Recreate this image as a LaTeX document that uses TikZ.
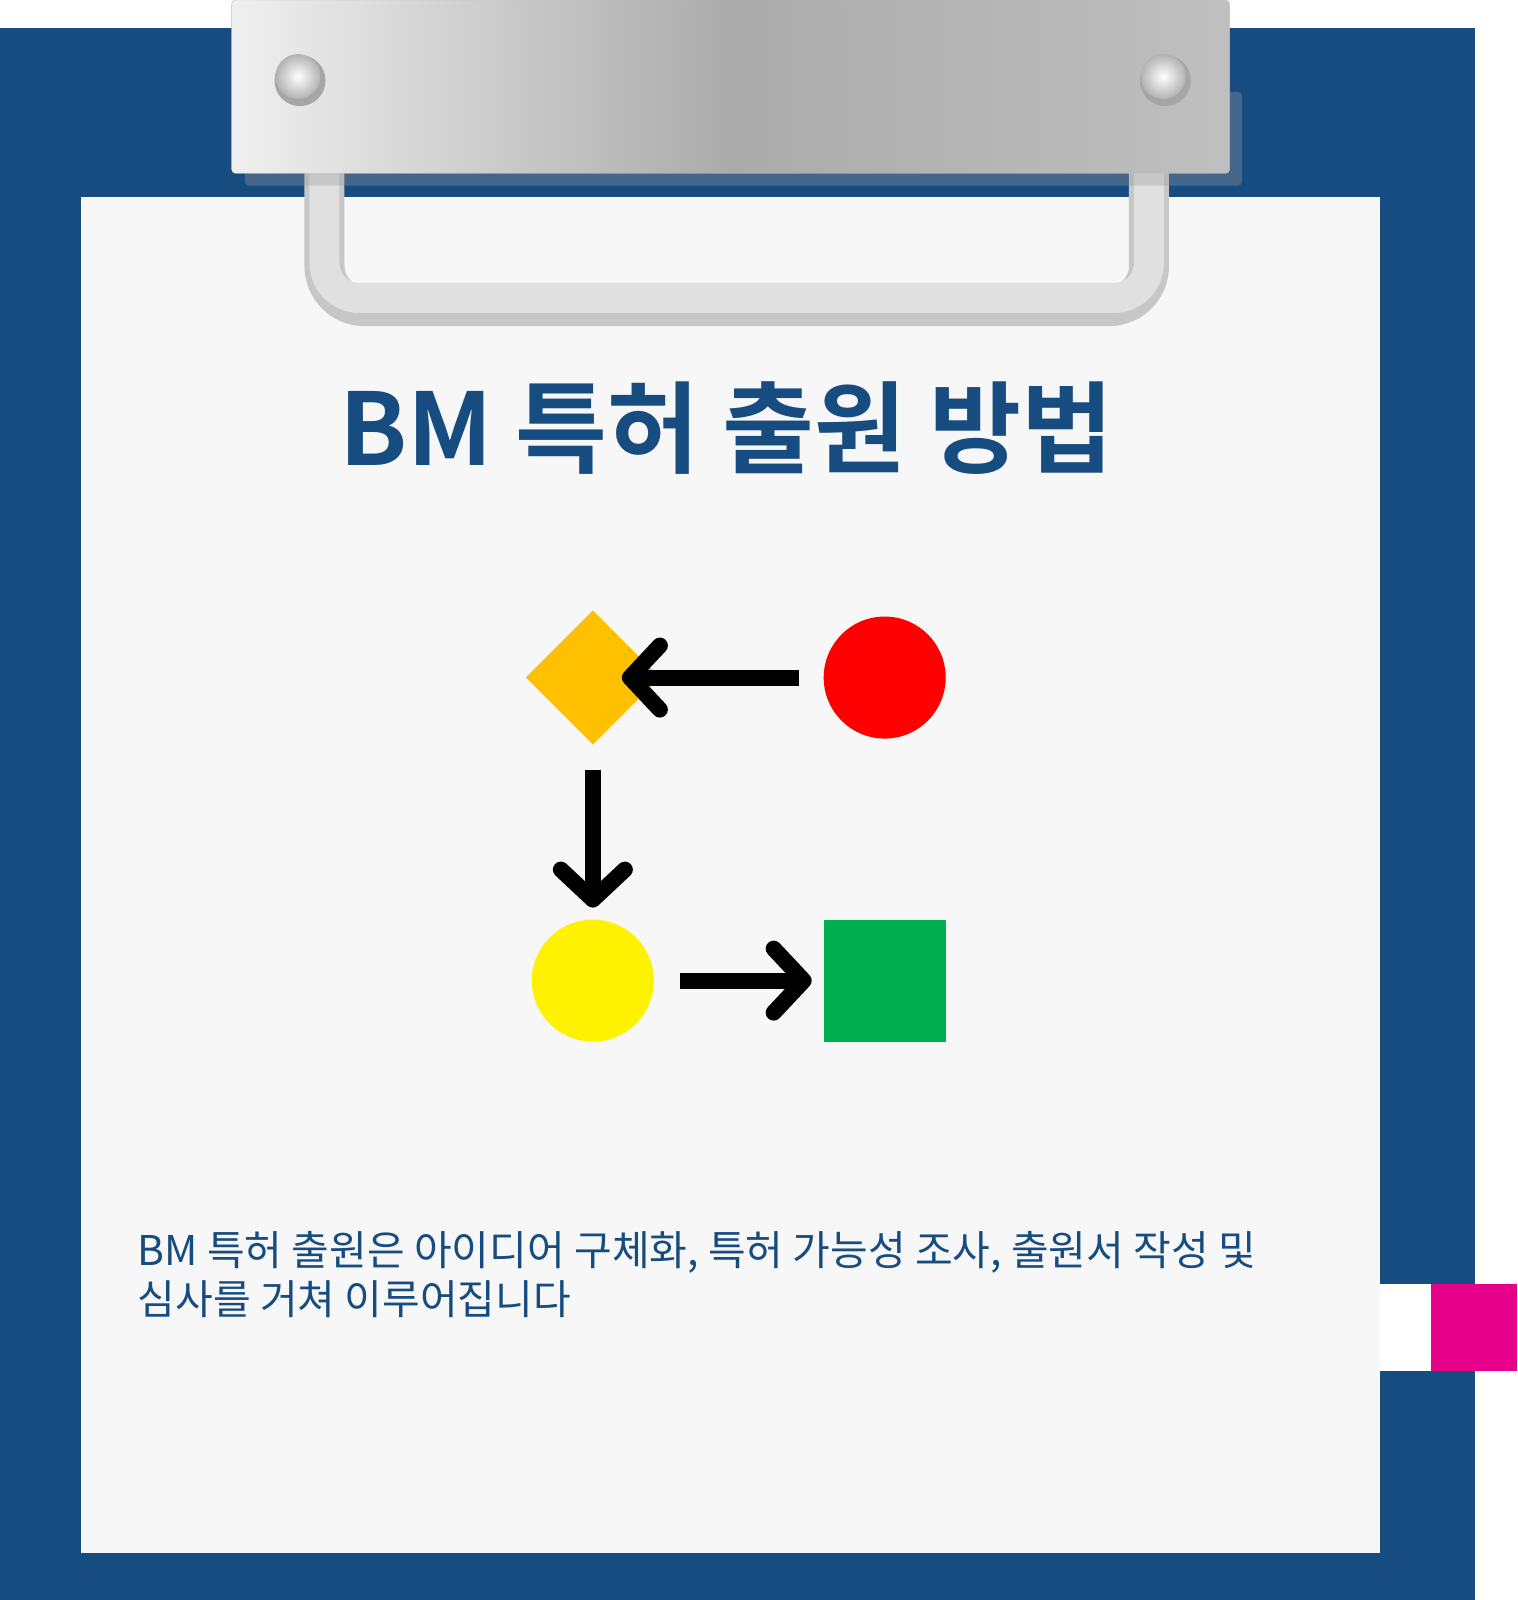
\documentclass[tikz,border=0pt]{standalone}
\usepackage{fontspec}
\newfontfamily\krb{Noto Sans CJK KR Bold}
\newfontfamily\kr{Noto Sans CJK KR}
\usetikzlibrary{shapes.geometric,arrows.meta}
\definecolor{board}{HTML}{174C80}
\definecolor{paper}{HTML}{F7F7F7}
\definecolor{amber}{HTML}{FFC000}
\definecolor{grn}{HTML}{00B050}
\definecolor{pink}{HTML}{E6008A}
\tikzset{
  arr/.style={line width=16pt, black, -{Straight Barb[length=30pt,width=64pt,line cap=round,line join=round]}},
  shp/.style={draw=none, inner sep=0pt, outer sep=0pt}
}
\begin{document}
\begin{tikzpicture}[x=1.0202pt,y=-1.0202pt]
\useasboundingbox (0,0) rectangle (1487,1568);
\fill[white] (0,0) rectangle (1487,1568);
\fill[board] (0,27) rectangle (1445,1568);
\fill[paper] (79,193) rectangle (1352,1522);
\fill[white] (1352,1258) rectangle (1402,1344);
\fill[pink] (1402,1258) rectangle (1487,1344);
% handle
\draw[line width=40pt, color=black!22, rounded corners=40pt] (318,165) -- (318,300) -- (1126,300) -- (1126,165);
\draw[line width=30pt, color=black!12, rounded corners=35pt] (318,165) -- (318,292) -- (1126,292) -- (1126,165);
% plate shadow and plate
\fill[black!40, opacity=0.35, rounded corners=4pt] (240,90) rectangle (1217,182);
\shade[left color=black!6, right color=black!25, middle color=black!33, rounded corners=4pt, draw=black!25] (227,0) rectangle (1205,170);
\foreach \x/\n in {294/s1,1142/s2}{
  \fill[black!35] (\x,79) circle (25);
  \shade[inner color=white, outer color=black!30] (\x-2,75) circle (22);
}
% title
\node[shp, text=board, font=\krb\fontsize{100}{108}\selectfont] (title) at (712,420) {BM 특허 출원 방법};
% shapes
\node[shp, diamond, fill=amber, minimum width=134, minimum height=134] (dia) at (581,664) {};
\node[shp, circle, fill=red, minimum size=122] (red) at (867,664) {};
\node[shp, circle, fill=yellow, minimum size=122] (yel) at (581,961) {};
\node[shp, rectangle, fill=grn, minimum size=122] (sq) at (867,961) {};
\draw[arr] ([xshift=-25pt]red.west) -- ([xshift=-38pt]dia.east);
\draw[arr] ([yshift=-25pt]dia.south) -- ([yshift=12pt]yel.north);
\draw[arr] ([xshift=26pt]yel.east) -- ([xshift=-12pt]sq.west);
% body text
\node[shp, anchor=north west, align=left, text=board, font=\kr\fontsize{41}{49}\selectfont] (body) at (135,1207) {BM 특허 출원은 아이디어 구체화, 특허 가능성 조사, 출원서 작성 및\\심사를 거쳐 이루어집니다};
\end{tikzpicture}
\end{document}
